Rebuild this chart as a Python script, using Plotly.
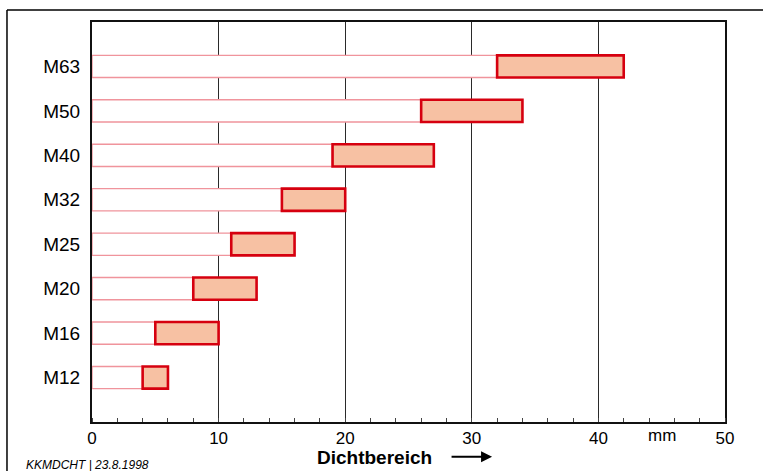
import plotly.graph_objects as go

# Sealing ranges of cable glands (mm)
sizes = ["M12", "M16", "M20", "M25", "M32", "M40", "M50", "M63"]
range_min = [4, 5, 8, 11, 15, 19, 26, 32]
range_max = [6, 10, 13, 16, 20, 27, 34, 42]

x_ticks = [0, 10, 20, 30, 40, 50]
x_tick_text = ["0", "10", "20", "30", "40", "50"]

span = [hi - lo for lo, hi in zip(range_min, range_max)]
pos = list(range(len(sizes)))

fig = go.Figure()

# guide strip from zero up to the start of each range
fig.add_trace(go.Bar(
    y=pos, x=range_min, orientation="h", width=0.5,
    marker=dict(color="white", line=dict(color="#f0949c", width=1.4)),
    hoverinfo="skip", showlegend=False,
))

# sealing range
fig.add_trace(go.Bar(
    y=pos, x=span, base=range_min, orientation="h", width=0.5,
    marker=dict(color="#f7c1a3", line=dict(color="#d6000f", width=2.6)),
    showlegend=False,
))

fig.update_layout(
    width=763, height=471,
    margin=dict(l=92, r=38, t=22, b=49),
    paper_bgcolor="white", plot_bgcolor="white",
    barmode="overlay",
    font=dict(family="Liberation Sans, Arial, sans-serif", color="black"),
    xaxis=dict(
        range=[0, 50], tickvals=x_ticks, ticktext=x_tick_text,
        showgrid=True, gridcolor="#2a2a2a", gridwidth=1.2,
        showline=True, linecolor="#111", linewidth=2, mirror=True,
        ticks="", tickfont=dict(size=17), zeroline=False,
        minor=dict(dtick=2, ticks="inside", ticklen=4, tickcolor="#444", tickwidth=1, showgrid=False),
    ),
    yaxis=dict(
        range=[-1, 8], tickvals=pos, ticktext=sizes,
        showgrid=False, zeroline=False,
        showline=True, linecolor="#111", linewidth=2, mirror=True,
        ticks="", tickfont=dict(size=19), ticklabelstandoff=6,
    ),
    annotations=[
        dict(text="mm", x=45, xref="x", y=-0.033, yref="paper",
             xanchor="center", yanchor="middle", showarrow=False,
             font=dict(size=17)),
        dict(text="<b>Dichtbereich</b>", x=0.447, xref="paper", y=-0.089, yref="paper",
             xanchor="center", yanchor="middle", showarrow=False,
             font=dict(size=19)),
        dict(text="", x=0.632, xref="paper", y=-0.087, yref="paper",
             ax=-42, ay=0, showarrow=True, arrowhead=2, arrowsize=1.1,
             arrowwidth=2, arrowcolor="black"),
        dict(text="<i>KKMDCHT | 23.8.1998</i>", x=-0.1074, xref="paper", y=-0.108, yref="paper",
             xanchor="left", yanchor="middle", showarrow=False,
             font=dict(size=12)),
    ],
    shapes=[
        dict(type="line", xref="paper", yref="paper", x0=-0.1343, x1=1.2, y0=1.03, y1=1.03,
             line=dict(color="black", width=1.5)),
        dict(type="line", xref="paper", yref="paper", x0=-0.1343, x1=-0.1343, y0=1.03, y1=-0.2,
             line=dict(color="black", width=1.5)),
    ],
)

fig.write_html("out.html")
